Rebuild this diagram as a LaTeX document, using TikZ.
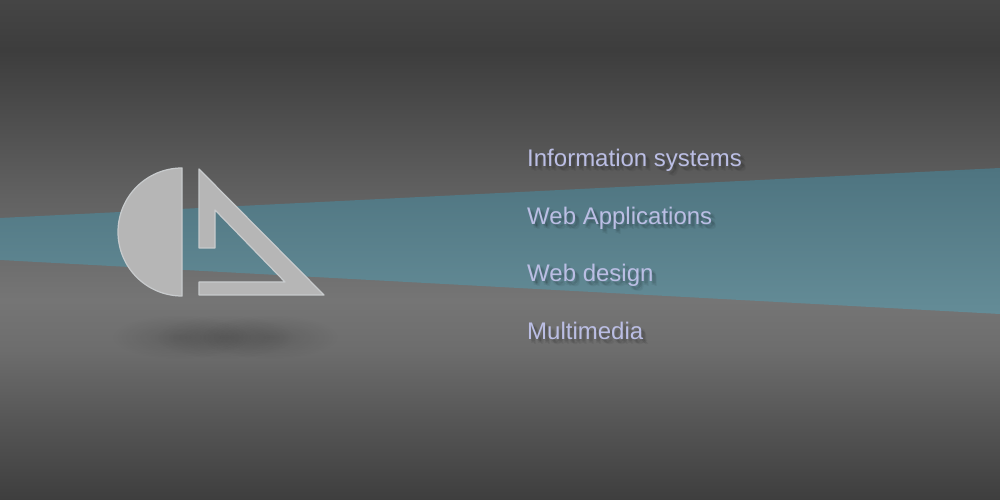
\documentclass[tikz,border=0pt]{standalone}
\usepackage{fontspec}
\setmainfont{Liberation Sans}
\usetikzlibrary{fadings}
\definecolor{back bottom}{HTML}{3E3E3E}
\definecolor{back low}{HTML}{565656}
\definecolor{back lower}{HTML}{6D6D6D}
\definecolor{back light}{HTML}{757575}
\definecolor{back mid}{HTML}{626262}
\definecolor{back upper}{HTML}{494949}
\definecolor{back dark}{HTML}{3D3D3D}
\definecolor{back top}{HTML}{454545}
\definecolor{band low}{HTML}{648C97}
\definecolor{band high}{HTML}{4E7480}
\definecolor{logo fill}{HTML}{B6B6B6}
\definecolor{logo edge}{HTML}{C8CBCD}
\definecolor{label ink}{HTML}{BBBEE4}
%the picture's box covers 25bp to 75bp of a shading
\pgfdeclareverticalshading{backdrop}{100bp}{
    color(0bp)=(back bottom);
    color(25bp)=(back bottom);
    color(33bp)=(back low);
    color(40bp)=(back lower);
    color(45bp)=(back light);
    color(55bp)=(back mid);
    color(65bp)=(back upper);
    color(70bp)=(back dark);
    color(75bp)=(back top);
    color(100bp)=(back top)
}
\pgfdeclareverticalshading{bandshade}{100bp}{
    color(0bp)=(band low);
    color(25bp)=(band low);
    color(75bp)=(band high);
    color(100bp)=(band high)
}
\tikzfading[name=shadowfade, inner color=transparent!0, outer color=transparent!100]
\tikzset{
    logo part/.style={fill=logo fill, draw=logo edge, line width=0.35pt, line join=round},
    menu item/.style={anchor=base west, inner sep=0pt, text=label ink, font=\fontsize{6.83pt}{8pt}\selectfont},
    menu shadow/.style={anchor=base west, inner sep=0pt, text=black, text opacity=0.05, font=\fontsize{6.83pt}{8pt}\selectfont},
}
\newcommand{\menulabel}[4]{
    \foreach \dx/\dy in {0.02/-0.02, 0.04/-0.02, 0.02/-0.04, 0.04/-0.04, 0.03/-0.03, 0.05/-0.05}
        \node[menu shadow] at (#2+\dx, #3+\dy) {#4};
    \node[menu item] (#1) at (#2, #3) {#4};
}

\begin{document}
\begin{tikzpicture}
    \useasboundingbox (0, 0) rectangle (10, 5);
    %draw background
    \path[shading=backdrop] (0, 0) rectangle (10, 5);
    %draw teal band
    \begin{scope}
        \clip (0, 2.82) -- (10, 3.32) -- (10, 1.86) -- (0, 2.40) -- cycle;
        \path[shading=bandshade] (0, 1.86) rectangle (10, 3.32);
    \end{scope}
    %draw shadow below the logo
    \foreach \x in {1.80, 2.25, 2.70}
        \fill[black, opacity=0.13, path fading=shadowfade] (\x, 1.63) ellipse (0.68 and 0.22);
    %draw half disc and set square
    \draw[logo part] (1.82, 3.32) arc (90:270:0.64) -- cycle;
    \draw[logo part] (1.99, 3.31) -- (3.24, 2.05) -- (1.99, 2.05) -- (1.99, 2.18) -- (2.85, 2.18)
        -- (2.15, 2.90) -- (2.15, 2.52) -- (1.99, 2.52) -- cycle;
    %label menu items
    \menulabel{info}{5.265}{3.335}{Information systems}
    \menulabel{webapps}{5.265}{2.755}{Web Applications}
    \menulabel{webdesign}{5.265}{2.185}{Web design}
    \menulabel{multimedia}{5.265}{1.605}{Multimedia}
\end{tikzpicture}
\end{document}
